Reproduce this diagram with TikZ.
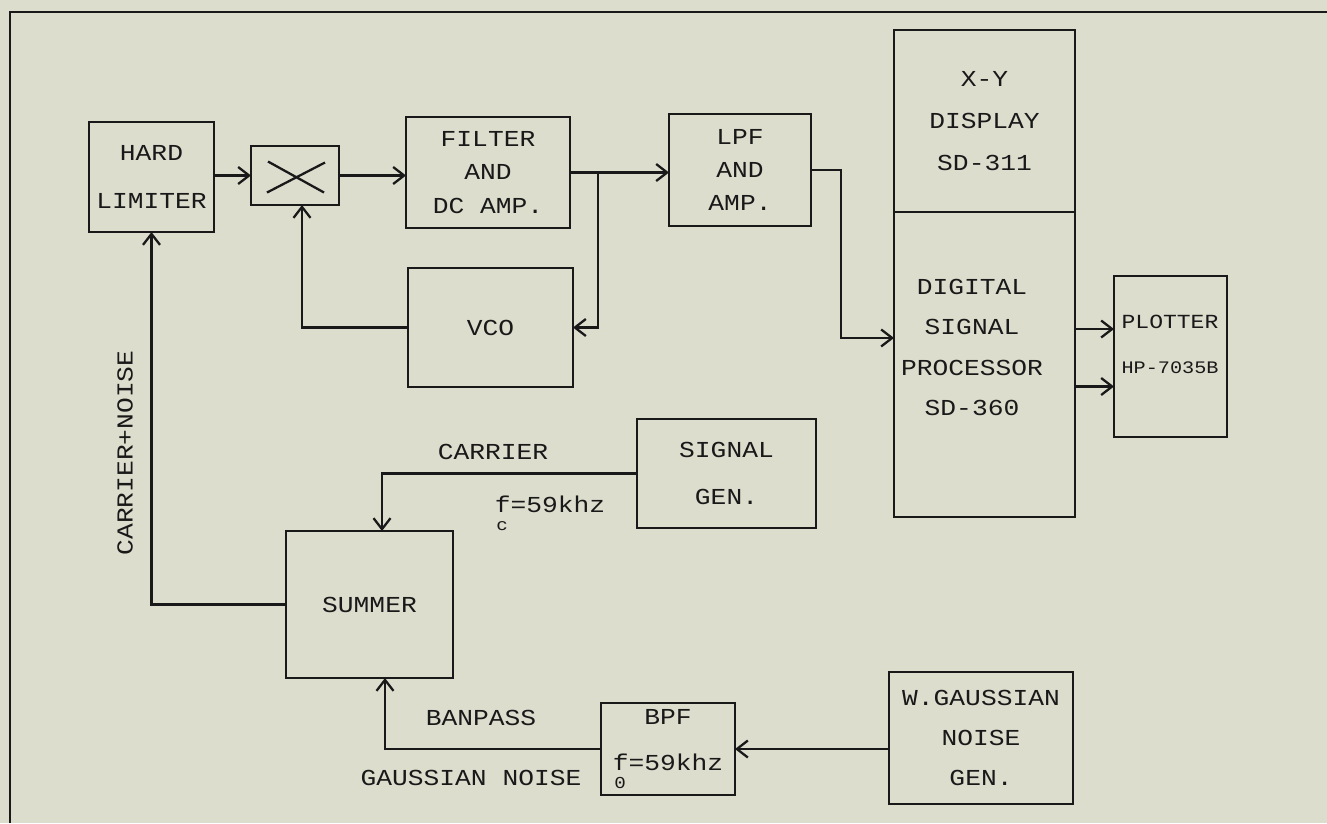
\documentclass[tikz,border=0pt]{standalone}
\usepackage{fontspec}
\newfontfamily\plotfont[FakeStretch=1.15]{Liberation Mono}
\usetikzlibrary{arrows.meta,positioning,calc}
\definecolor{paper}{RGB}{221,221,206}
\definecolor{ink}{RGB}{25,25,25}
\newcommand{\usub}[1]{\llap{\raisebox{-1.5ex}{\fontsize{9.5}{9.5}\selectfont #1}\hspace{0.12em}}}
\tikzset{blk/.style={draw=ink,line width=1.3pt,align=center,inner sep=0pt,outer sep=0pt,text=ink,font=\plotfont\fontsize{13}{#1}\selectfont},
  blk/.default=20,
  lbl/.style={text=ink,inner sep=0pt,font=\plotfont\fontsize{13}{16}\selectfont},
  arr/.style={-{Straight Barb[length=2.2mm,width=3.4mm]},line width=1.3pt,draw=ink}}

\begin{document}
\begin{tikzpicture}[x=0.02cm,y=-0.02cm]
\fill[paper] (0,0) rectangle (1327,823);
\useasboundingbox (0,0) rectangle (1327,823);
\draw[ink,line width=1.3pt] (10,823) -- (10,12) -- (1327,12);
% loop blocks
\node[blk=27,minimum width=2.5cm,minimum height=2.2cm] (hl) at (151.5,177) {HARD\\LIMITER};
\node[blk,minimum width=1.76cm,minimum height=1.18cm] (mult) at (295,175.5) {};
\draw[ink,line width=1.3pt] ($(mult.center)+(-27,-14)$) -- ($(mult.center)+(29,17)$)
  ($(mult.center)+(-28,17)$) -- ($(mult.center)+(30,-13)$);
\node[blk=19,minimum width=3.28cm,minimum height=2.22cm] (filt) at (488,172.5) {FILTER\\AND\\DC AMP.};
\node[blk,minimum width=3.3cm,minimum height=2.38cm] (vco) at (490.5,327.5) {VCO};
\node[blk=19,minimum width=2.84cm,minimum height=2.24cm] (lpf) at (740,170) {LPF\\AND\\AMP.};
% display, processor, plotter
\node[blk=24,minimum width=3.62cm,minimum height=3.64cm] (xy) at (984.5,121) {X-Y\\DISPLAY\\SD-311};
\node[blk,minimum width=3.62cm,minimum height=6.1cm,below=0pt of xy] (dsp) {};
\node[lbl,align=center,font=\plotfont\fontsize{13}{23}\selectfont] (dspt) at (972,347.5) {DIGITAL\\SIGNAL\\PROCESSOR\\SD-360};
\node[blk,minimum width=2.26cm,minimum height=3.22cm] (plot) at (1170.5,356.5) {};
\node[lbl,align=center,font=\plotfont\fontsize{11.4}{25.5}\selectfont] (plott) at (1170,344.5) {PLOTTER\\{\fontsize{10}{12}\selectfont HP-7035B}};
% sources
\node[blk=27,minimum width=3.58cm,minimum height=2.18cm] (sig) at (726.5,473.5) {SIGNAL\\GEN.};
\node[blk,minimum width=3.34cm,minimum height=2.94cm] (summ) at (369.5,604.5) {SUMMER};
\node[blk=26,minimum width=2.68cm,minimum height=1.84cm] (bpf) at (668,749) {BPF\\f\usub{0}=59khz};
\node[blk=23,minimum width=3.68cm,minimum height=2.64cm] (wg) at (981,738) {W.GAUSSIAN\\NOISE\\GEN.};
% labels
\node[lbl,rotate=90] (cn) at (125,453) {CARRIER+NOISE};
\node[lbl] (carr) at (493,452) {CARRIER};
\node[lbl] (fc) at (550,513) {f\usub{c}=59khz};
\node[lbl] (banp) at (481,718) {BANPASS};
\node[lbl] (gn) at (471,778) {GAUSSIAN NOISE};
% connections
\coordinate (br) at (filt.east -| 598,0);
\coordinate (p1) at ([yshift=0.55cm]plot.west);
\coordinate (p2) at ([yshift=-0.6cm]plot.west);
\draw[arr] (hl.east |- mult.west) -- (mult.west);
\draw[arr] (mult.east) -- (mult.east -| filt.west);
\draw[arr] (filt.east) -- (filt.east -| lpf.west);
\draw[arr] (br) |- (vco.east);
\draw[arr] (vco.west) -| ([xshift=0.14cm]mult.south);
\draw[arr] (lpf.east) -- ++(30,0) |- ([yshift=0.53cm]dsp.west);
\draw[arr] (p1 -| dsp.east) -- (p1);
\draw[arr] (p2 -| dsp.east) -- (p2);
\draw[arr] (sig.west) -| ([xshift=0.25cm]summ.north);
\draw[arr] (summ.west) -| (hl.south);
\draw[arr] (wg.west |- bpf.east) -- (bpf.east);
\draw[arr] (bpf.west) -| ([xshift=0.31cm]summ.south);
\end{tikzpicture}
\end{document}
